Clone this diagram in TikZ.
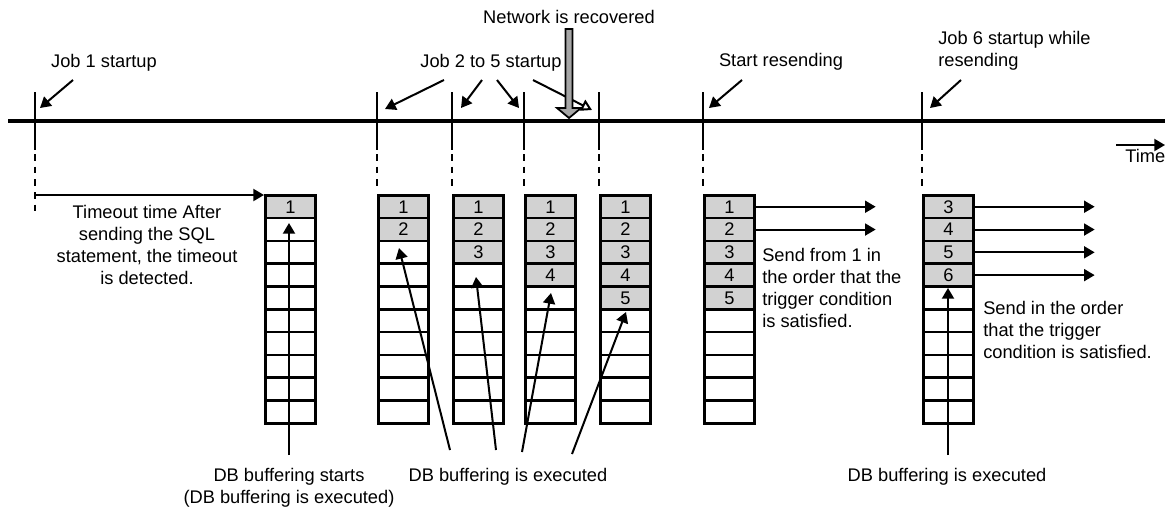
\documentclass[tikz,border=0pt]{standalone}
\usepackage{fontspec}
\setmainfont{Liberation Sans}
\usetikzlibrary{arrows.meta,positioning}

\tikzset{
  txt/.style={font=\fontsize{13.7}{16.5}\selectfont, inner sep=0pt},
  cell/.style={draw, line width=2pt, minimum width=37.5pt, minimum height=17.1pt,
    inner sep=0pt, anchor=north west, font=\fontsize{13.7}{16.5}\selectfont},
  full/.style={cell, fill=gray!35},
  arr/.style={line width=1.5pt, -{Triangle[length=8pt,width=9pt]}},
  tick/.style={line width=1.7pt},
  dotline/.style={line width=1.7pt, dash pattern=on 5pt off 4.5pt},
}

\begin{document}
\begin{tikzpicture}[x=0.75pt,y=-0.75pt]
  \useasboundingbox (0,0) rectangle (1165,511);

  \node[txt] (net) at (569,17) {Network is recovered};
  \node[txt] (job1) at (104,63) {Job 1 startup};
  \node[txt] (job25) at (491,63) {Job 2 to 5 startup};
  \node[txt] (resend) at (781,62) {Start resending};
  \node[txt, align=left, anchor=west] (job6) at (938,51) {Job 6 startup while\\resending};
  \node[txt, anchor=west] (time) at (1125,156) {Time};

  \coordinate (tlw) at (8,121);
  \coordinate (tle) at (1165,121);
  \draw[line width=3.5pt] (tlw) -- (tle);

  \foreach \i/\x/\e in {1/35/217,2/377/188,3/452/188,4/524/188,5/599/188,6/703/188,7/922/188}{
    \coordinate (k\i) at (\x,92);
    \coordinate (m\i) at (\x,150);
    \coordinate (d\i) at (\x,154);
    \coordinate (n\i) at (\x,\e);
    \draw[tick] (k\i) -- (m\i);
    \draw[dotline] (d\i) -- (n\i);
  }

  \foreach \n/\x/\f/\o in {1/264/1/0,2/377/2/0,3/452/3/0,4/524/4/0,5/599/5/0,6/703/5/0,7/922/4/2}{
    \foreach \r in {1,...,10}{
      \pgfmathtruncatemacro{\v}{\r+\o}
      \ifnum\r>\f
        \node[cell] (b\n-\r) at (\x,{194+(\r-1)*22.8}) {};
      \else
        \node[full] (b\n-\r) at (\x,{194+(\r-1)*22.8}) {\v};
      \fi
    }
  }

  \coordinate (j1s) at (73,80);   \coordinate (j1e) at (40,108);
  \coordinate (j2s) at (444,80);  \coordinate (j2e) at (385,109);
  \coordinate (j3s) at (482,80);  \coordinate (j3e) at (461,108);
  \coordinate (j4s) at (497,80);  \coordinate (j4e) at (519,108);
  \coordinate (j5s) at (533,80);  \coordinate (j5e) at (592,110);
  \coordinate (rs) at (742,80);   \coordinate (re) at (709,108);
  \coordinate (j6s) at (961,80);  \coordinate (j6e) at (930,108);
  \coordinate (tms) at (1116,145); \coordinate (tme) at (1165,145);
  \coordinate (to) at (35,195);

  \draw[arr] (j1s) -- (j1e);
  \draw[arr] (j2s) -- (j2e);
  \draw[arr] (j3s) -- (j3e);
  \draw[arr] (j4s) -- (j4e);
  \draw[line width=1.5pt, -{Triangle[length=8pt,width=9pt,fill=white]}] (j5s) -- (j5e);
  \draw[arr] (rs) -- (re);
  \draw[arr] (j6s) -- (j6e);
  \draw[arr] (tms) -- (tme);
  \draw[arr] (to) -- (to -| b1-1.west);

  \draw[fill=gray!70, line width=1.3pt] (565.5,29) -- (572.5,29) -- (572.5,108) -- (581,108)
    -- (569,118) -- (557,108) -- (565.5,108) -- cycle;

  \foreach \r in {1,2}{
    \path (b6-\r.east) ++(120,0) coordinate (o6-\r);
    \draw[arr] (b6-\r.east) -- (o6-\r);
  }
  \foreach \r in {1,...,4}{
    \path (b7-\r.east) ++(120,0) coordinate (o7-\r);
    \draw[arr] (b7-\r.east) -- (o7-\r);
  }

  \node[txt, align=center] (tmo) at (147,245) {Timeout time After\\sending the SQL\\statement, the timeout\\is detected.};
  \node[txt, align=left, anchor=west] (send1) at (762,288) {Send from 1 in\\the order that the\\trigger condition\\is satisfied.};
  \node[txt, align=left, anchor=west] (send2) at (983,330) {Send in the order\\that the trigger\\condition is satisfied.};
  \node[txt, align=center] (dbs) at (289,488) {DB buffering starts\\(DB buffering is executed)};
  \node[txt] (dbe) at (508,477) {DB buffering is executed};
  \node[txt] (dbe2) at (947,477) {DB buffering is executed};

  \coordinate (u1) at (289,455); \coordinate (v1) at (289,223);
  \coordinate (u2) at (450,450); \coordinate (v2) at (399,248);
  \coordinate (u3) at (496,450); \coordinate (v3) at (476,277);
  \coordinate (u4) at (522,452); \coordinate (v4) at (551,293);
  \coordinate (u5) at (572,454); \coordinate (v5) at (626,312);
  \coordinate (u7) at (948,455); \coordinate (v7) at (948,288);
  \draw[arr] (u1) -- (v1);
  \draw[arr] (u2) -- (v2);
  \draw[arr] (u3) -- (v3);
  \draw[arr] (u4) -- (v4);
  \draw[arr] (u5) -- (v5);
  \draw[arr] (u7) -- (v7);
\end{tikzpicture}
\end{document}
